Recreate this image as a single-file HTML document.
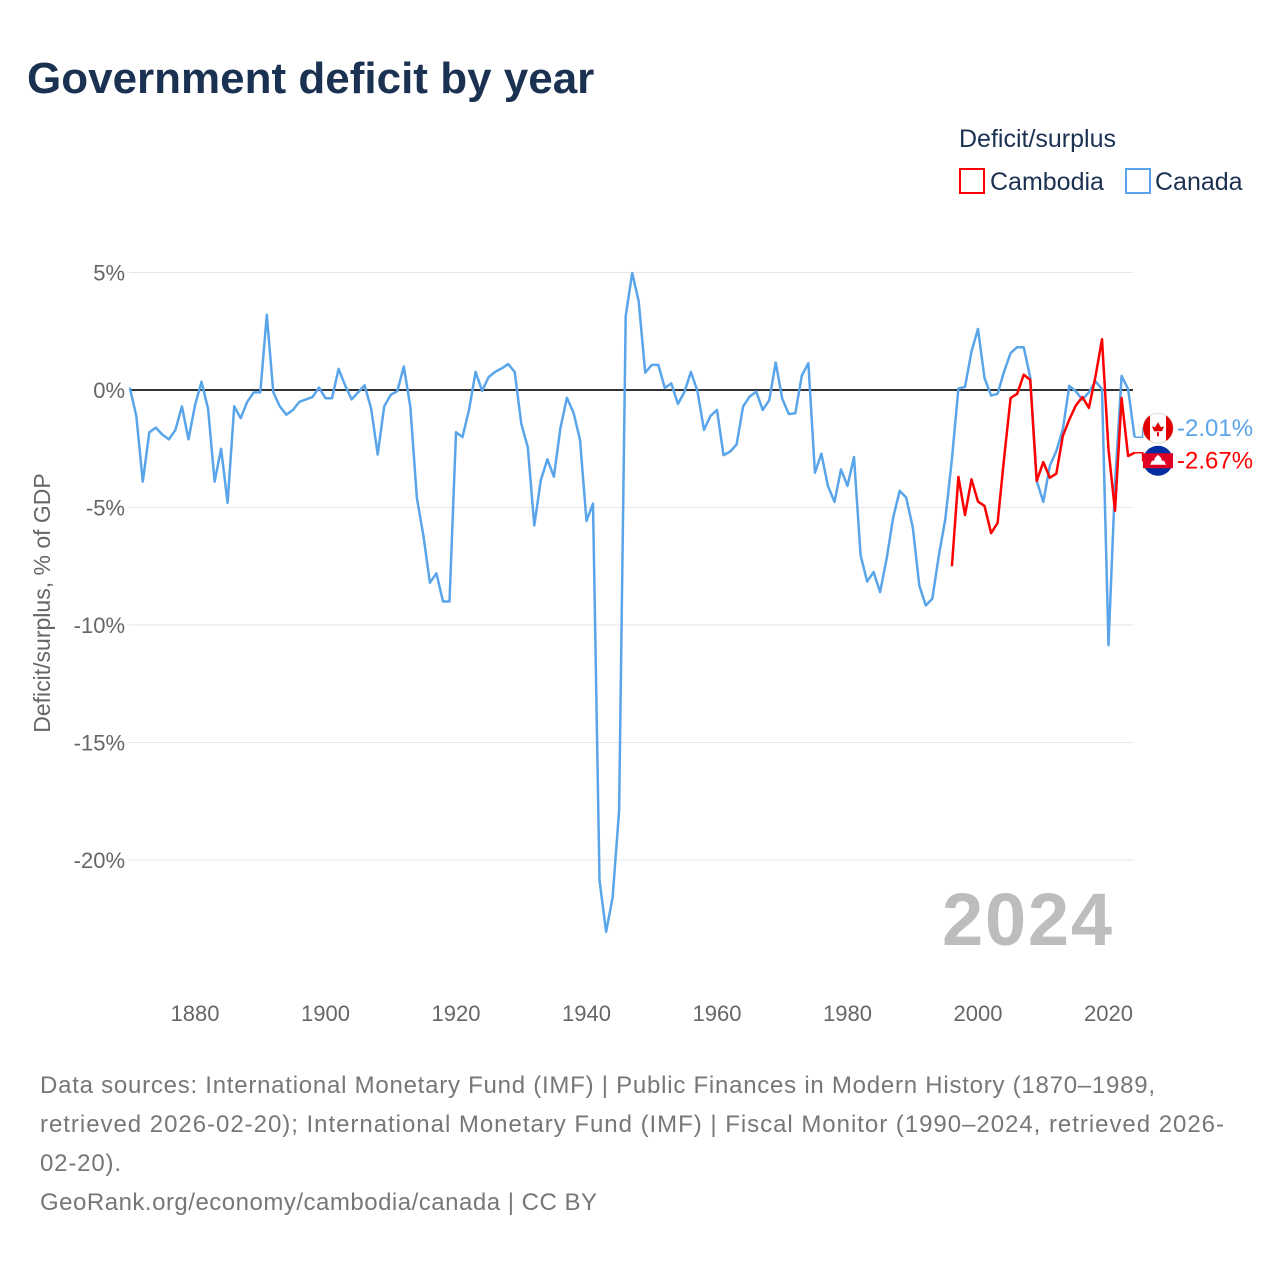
<!DOCTYPE html>
<html><head><meta charset="utf-8"><style>
body{margin:0;background:#fff;font-family:"Liberation Sans",sans-serif;}
svg{display:block}
</style></head><body>
<svg id="chart" width="1280" height="1280" xmlns="http://www.w3.org/2000/svg">
<text x="27" y="93" font-size="44" font-weight="bold" fill="#1b3152">Government deficit by year</text>
<text x="959" y="147" font-size="25" fill="#1b3152">Deficit/surplus</text>
<g><rect x="960" y="169" width="24" height="24" fill="none" stroke="#f00" stroke-width="2"/><text x="990" y="190" font-size="25" fill="#1b3152">Cambodia</text></g>
<g><rect x="1126" y="169" width="24" height="24" fill="none" stroke="#5aa5ea" stroke-width="2"/><text x="1155" y="190" font-size="25" fill="#1b3152">Canada</text></g>
<g id="grid"></g><g id="yt"></g><g id="xt"></g>
<text x="942" y="945" font-size="74" font-weight="bold" fill="#bdbdbd" textLength="170">2024</text>
<text transform="translate(50,603) rotate(-90)" text-anchor="middle" font-size="23" fill="#666">Deficit/surplus, % of GDP</text>
<g id="series"></g>
<g font-size="24" fill="#777">
<text x="40" y="1093" textLength="1115">Data sources: International Monetary Fund (IMF) | Public Finances in Modern History (1870–1989,</text>
<text x="40" y="1132" textLength="1184">retrieved 2026-02-20); International Monetary Fund (IMF) | Fiscal Monitor (1990–2024, retrieved 2026-</text>
<text x="40" y="1171" textLength="81">02-20).</text>
<text x="40" y="1210" textLength="557">GeoRank.org/economy/cambodia/canada | CC BY</text>
</g>
</svg>
<script>
const yTicks=[5,0,-5,-10,-15,-20];
const xTicks=[1880,1900,1920,1940,1960,1980,2000,2020];
const canadaStart=1870;
const canada=[0.1,-1.1,-3.9,-1.8,-1.6,-1.9,-2.1,-1.7,-0.7,-2.1,-0.65,0.35,-0.8,-3.9,-2.5,-4.8,-0.7,-1.2,-0.5,-0.1,-0.1,3.2,-0.1,-0.7,-1.05,-0.85,-0.5,-0.4,-0.3,0.1,-0.35,-0.35,0.9,0.2,-0.4,-0.1,0.2,-0.8,-2.75,-0.7,-0.2,-0.05,1.0,-0.7,-4.6,-6.2,-8.2,-7.8,-9.0,-9.0,
-1.8,-2.0,-0.83,0.77,-0.04,0.55,0.77,0.92,1.1,0.77,-1.44,-2.44,-5.76,-3.84,-2.95,-3.69,-1.62,-0.33,-0.96,-2.12,-5.57,-4.83,-20.85,-23.06,-21.6,-17.9,3.14,4.98,3.78,0.74,1.07,1.07,0.09,0.28,-0.59,-0.09,0.77,-0.04,-1.7,-1.1,-0.85,-2.77,-2.62,-2.32,-0.7,-0.28,-0.07,-0.85,-0.44,1.17,
-0.38,-1.02,-0.99,0.61,1.14,-3.52,-2.71,-4.08,-4.76,-3.38,-4.08,-2.85,-7.03,-8.15,-7.75,-8.6,-7.16,-5.42,-4.29,-4.58,-5.85,-8.32,-9.17,-8.88,-7.03,-5.47,-2.95,0.06,0.13,1.64,2.6,0.51,-0.24,-0.16,0.79,1.57,1.82,1.82,0.55,-3.87,-4.76,-3.23,-2.6,-1.68,0.18,-0.06,-0.41,-0.1,0.37,0.04,-10.86,-4.0,0.6,0.04,-2.01];
const cambodiaStart=1996;
const cambodia=[-7.5,-3.7,-5.32,-3.8,-4.75,-4.93,-6.09,-5.66,-2.9,-0.34,-0.16,0.65,0.44,-3.87,-3.07,-3.73,-3.56,-1.96,-1.26,-0.65,-0.3,-0.76,0.58,2.16,-2.53,-5.14,-0.34,-2.81,-2.67];
const NS="http://www.w3.org/2000/svg";
const X=y=>129.75+6.525*(y-1870);
const Y=v=>390-23.5*v;
function mk(tag,attrs,parent,txt){const e=document.createElementNS(NS,tag);for(const k in attrs)e.setAttribute(k,attrs[k]);if(txt!==undefined)e.textContent=txt;parent.appendChild(e);return e;}
const grid=document.getElementById('grid'),yt=document.getElementById('yt'),xt=document.getElementById('xt'),ser=document.getElementById('series');
yTicks.forEach(t=>{
 const l=mk('line',{x1:129,x2:1133,y1:Y(t),y2:Y(t),stroke:t===0?'#333':'#e6e6e6','stroke-width':t===0?2:1},grid);
 
 
 const tx=mk('text',{x:125,y:Y(t)+8,'text-anchor':'end','font-size':22,fill:'#666'},yt,t+'%');
 
 
});
xTicks.forEach(t=>{
 const tx=mk('text',{x:X(t),y:1021,'text-anchor':'middle','font-size':22,fill:'#666'},xt,String(t));
 
 
});
function line(arr,start,color,name){
 const pts=arr.map((v,i)=>X(start+i).toFixed(1)+','+Y(v).toFixed(1)).join(' ');
 const p=mk('polyline',{points:pts,fill:'none',stroke:color,'stroke-width':2.5,'stroke-linejoin':'round'},ser);
 
 
}
line(canada,canadaStart,'#5aa5ea','canada-line');
line(cambodia,cambodiaStart,'#f00','cambodia-line');
const cv=canada[canada.length-1],kv=cambodia[cambodia.length-1];
const ex=X(2024);
const cy=Y(cv)-9, ky=Y(kv)+8;
mk('polyline',{points:`${ex},${Y(cv)} ${ex+8},${Y(cv)} ${ex+8},${cy} 1142,${cy}`,fill:'none',stroke:'#5aa5ea','stroke-width':1.5},ser);
mk('polyline',{points:`${ex},${Y(kv)} ${ex+8},${Y(kv)} ${ex+8},${ky} 1142,${ky}`,fill:'none',stroke:'#f00','stroke-width':1.5},ser);
const f1=mk('g',{},ser);


mk('circle',{cx:1158,cy:cy,r:15,fill:'#fff',stroke:'#ddd'},f1);
mk('path',{d:`M1143,${cy} a15,15 0 0 1 7,-12.7 v25.4 a15,15 0 0 1 -7,-12.7z`,fill:'#e30000'},f1);
mk('path',{d:`M1173,${cy} a15,15 0 0 0 -7,-12.7 v25.4 a15,15 0 0 0 7,-12.7z`,fill:'#e30000'},f1);
mk('path',{d:`M1158,${cy-6} l3,5 l3,-1 l-2,5 h-8 l-2,-5 l3,1z M1157,${cy+4} h2 v4 h-2z`,fill:'#e30000'},f1);
const f2=mk('g',{},ser);


mk('circle',{cx:1158,cy:ky,r:15,fill:'#032ea1'},f2);
mk('rect',{x:1143,y:ky-7.5,width:30,height:15,fill:'#e00025'},f2);
mk('path',{d:`M1150,${ky+4} h16 l-2,-4 h-2 l-1,-3 l-3,-3 l-3,3 l-1,3 h-2z`,fill:'#fff'},f2);
const t1=mk('text',{x:1177,y:cy+8,'font-size':24,fill:'#5aa5ea'},ser,cv.toFixed(2)+'%');


const t2=mk('text',{x:1177,y:ky+8,'font-size':24,fill:'#f00'},ser,kv.toFixed(2)+'%');


</script>
</body></html>
